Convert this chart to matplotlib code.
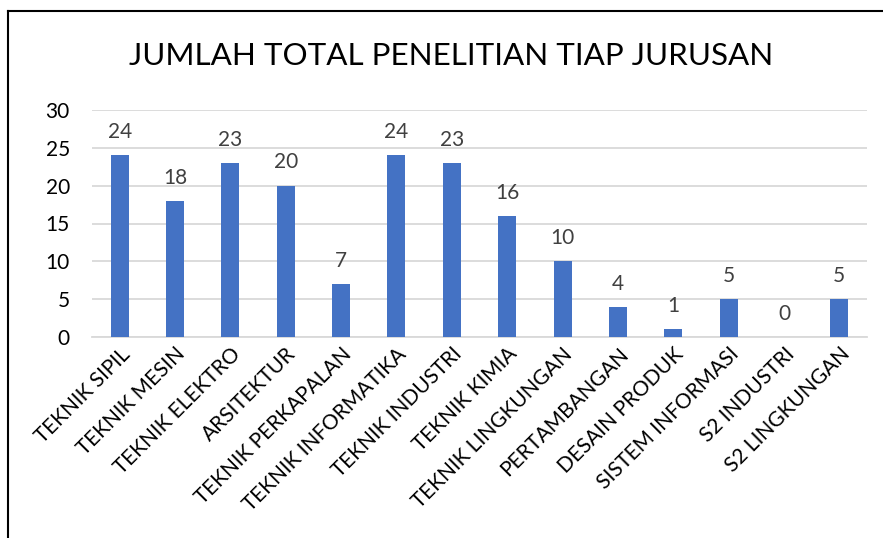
import matplotlib
matplotlib.use("Agg")
import matplotlib.pyplot as plt
from matplotlib.lines import Line2D

categories = ["TEKNIK SIPIL", "TEKNIK MESIN", "TEKNIK ELEKTRO", "ARSITEKTUR",
              "TEKNIK PERKAPALAN", "TEKNIK INFORMATIKA", "TEKNIK INDUSTRI",
              "TEKNIK KIMIA", "TEKNIK LINGKUNGAN", "PERTAMBANGAN",
              "DESAIN PRODUK", "SISTEM INFORMASI", "S2 INDUSTRI", "S2 LINGKUNGAN"]
values = [24, 18, 23, 20, 7, 24, 23, 16, 10, 4, 1, 5, 0, 5]
yticks = [0, 5, 10, 15, 20, 25, 30]
title = "JUMLAH TOTAL PENELITIAN TIAP JURUSAN"

plt.rcParams['font.family'] = ['Lato', 'DejaVu Sans']

W, H = 883, 538
fig = plt.figure(figsize=(W / 100, H / 100), dpi=100)
ax = fig.add_axes([92 / W, 1 - 337 / H, (867 - 92) / W, (337 - 110) / H])

x = list(range(len(categories)))
ax.bar(x, values, width=0.325, color="#4472C4", zorder=3)
for xi, v in zip(x, values):
    ax.annotate(str(v), (xi, v), xytext=(0, 9.5), textcoords="offset points",
                ha="center", va="bottom", fontsize=15, color="#404040")

ax.set_xlim(-0.5, len(categories) - 0.5)
ax.set_ylim(0, 30)
ax.set_yticks(yticks)
ax.yaxis.grid(True, color="#D9D9D9", linewidth=1.3, zorder=0)
ax.set_xticks(x)
ax.set_xticklabels(categories, rotation=45, ha="right", rotation_mode="anchor",
                   fontsize=15, color="#000000")
ax.tick_params(axis="y", labelsize=15, length=0, pad=16, colors="#000000")
ax.tick_params(axis="x", length=0, pad=5)
for s in ["top", "right", "left"]:
    ax.spines[s].set_visible(False)
ax.spines["bottom"].set_color("#D9D9D9")
ax.spines["bottom"].set_linewidth(1.3)

fig.text(451 / W, 1 - 56 / H, title, ha="center", va="center", fontsize=22.6,
         color="#000000")

# outer chart border (top and left visible)
fig.add_artist(Line2D([8 / W, 1.0], [1 - 11 / H, 1 - 11 / H], color="black",
                      linewidth=1.5, transform=fig.transFigure))
fig.add_artist(Line2D([8 / W, 8 / W], [0, 1 - 11 / H], color="black",
                      linewidth=1.5, transform=fig.transFigure))

fig.savefig("out.png", dpi=100)
